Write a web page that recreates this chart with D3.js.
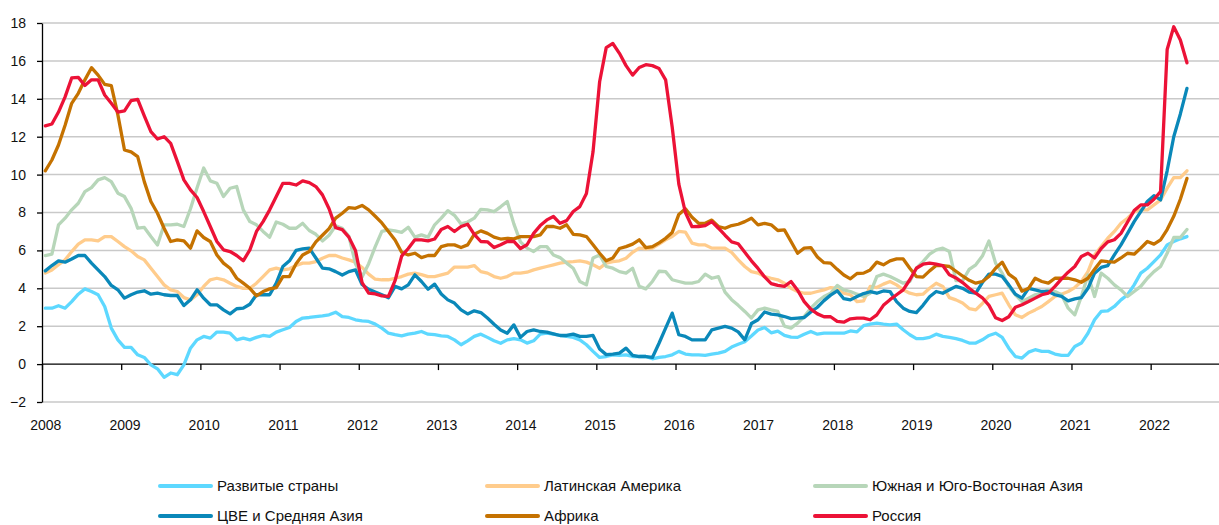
<!DOCTYPE html>
<html>
<head>
<meta charset="utf-8">
<script src="https://cdn.jsdelivr.net/npm/d3@7"></script>
<style>
  html, body { margin: 0; padding: 0; background: #fff; }
  svg { display: block; font-family: "Liberation Sans", Arial, sans-serif; }
</style>
</head>
<body>
<svg id="chart" width="1219" height="525"></svg>
<script>
// Monthly inflation, % y/y, January 2008 – June 2022
const firstYear = 2008;
const monthCount = 174;

const yearTicks = d3.range(2008, 2023);
const valueTicks = d3.range(-2, 19, 2);

const seriesNames = [
  "Развитые страны",
  "Латинская Америка",
  "Южная и Юго-Восточная Азия",
  "ЦВЕ и Средняя Азия",
  "Африка",
  "Россия"
];

const developed = [
  2.95, 2.95, 3.08, 2.95, 3.3, 3.69, 3.97, 3.83, 3.66, 3.04, 1.9, 1.28,
  0.88, 0.88, 0.49, 0.35, -0.04, -0.25, -0.7, -0.47, -0.56, -0.04, 0.84, 1.28,
  1.46, 1.37, 1.69, 1.69, 1.63, 1.28, 1.37, 1.28, 1.41, 1.51, 1.46, 1.69,
  1.81, 1.93, 2.25, 2.43, 2.46, 2.51, 2.55, 2.6, 2.74, 2.51, 2.46, 2.34,
  2.28, 2.25, 2.11, 1.9, 1.63, 1.55, 1.49, 1.58, 1.63, 1.72, 1.58, 1.55,
  1.49, 1.46, 1.28, 1.02, 1.23, 1.46, 1.58, 1.41, 1.23, 1.1, 1.28, 1.34,
  1.28, 1.11, 1.23, 1.58, 1.63, 1.58, 1.51, 1.46, 1.41, 1.28, 1.02, 0.67,
  0.35, 0.4, 0.49, 0.46, 0.49, 0.4, 0.4, 0.4, 0.28, 0.35, 0.4, 0.49,
  0.67, 0.53, 0.49, 0.49, 0.46, 0.53, 0.58, 0.67, 0.9, 1.05, 1.18, 1.48,
  1.8, 1.93, 1.65, 1.74, 1.52, 1.42, 1.41, 1.58, 1.72, 1.58, 1.63, 1.63,
  1.63, 1.63, 1.75, 1.7, 2.03, 2.11, 2.16, 2.11, 2.07, 2.11, 1.81, 1.55,
  1.34, 1.34, 1.41, 1.58, 1.46, 1.41, 1.34, 1.25, 1.11, 1.11, 1.28, 1.51,
  1.63, 1.41, 0.84, 0.4, 0.32, 0.63, 0.76, 0.67, 0.67, 0.53, 0.46, 0.46,
  0.93, 1.11, 1.63, 2.34, 2.78, 2.81, 3.04, 3.39, 3.66, 4.18, 4.8, 5.06,
  5.41, 5.76, 6.29, 6.47, 6.61, 6.73
];

const latinAmerica = [
  4.8, 4.97, 5.24, 5.5, 5.94, 6.33, 6.56, 6.56, 6.5, 6.73, 6.73, 6.47,
  6.2, 5.98, 5.68, 5.5, 5.06, 4.62, 4.18, 3.92, 3.83, 3.51, 3.39, 3.66,
  4.1, 4.45, 4.53, 4.45, 4.27, 4.1, 4.0, 4.0, 4.27, 4.62, 4.97, 5.06,
  4.97, 5.03, 5.2, 5.33, 5.33, 5.41, 5.59, 5.73, 5.73, 5.6, 5.5, 5.38,
  5.1, 4.75, 4.48, 4.45, 4.45, 4.53, 4.62, 4.75, 4.8, 4.72, 4.62, 4.62,
  4.71, 4.8, 5.12, 5.12, 5.12, 5.2, 4.88, 4.8, 4.62, 4.53, 4.62, 4.8,
  4.8, 4.85, 4.97, 5.06, 5.15, 5.24, 5.33, 5.38, 5.41, 5.45, 5.38, 5.24,
  5.06, 5.33, 5.41, 5.45, 5.59, 5.9, 6.12, 6.08, 6.12, 6.33, 6.56, 6.73,
  7.0, 6.96, 6.38, 6.29, 6.29, 6.12, 6.12, 6.12, 5.9, 5.5, 5.15, 4.88,
  4.8, 4.62, 4.53, 4.45, 4.27, 4.0, 3.83, 3.74, 3.74, 3.83, 3.92, 4.04,
  4.0, 3.74, 3.66, 3.3, 3.34, 4.1, 4.04, 4.22, 4.36, 4.18, 3.92, 3.74,
  3.66, 3.69, 4.0, 4.27, 4.1, 3.51, 3.39, 3.22, 2.93, 2.86, 3.2, 3.57,
  3.66, 3.74, 3.13, 2.6, 2.46, 2.69, 2.86, 3.04, 3.3, 3.57, 3.69, 3.83,
  4.04, 4.36, 4.88, 5.76, 6.2, 6.64, 7.0, 7.43, 7.7, 8.05, 8.14, 8.14,
  8.4, 8.66, 9.28, 9.84, 9.84, 10.2
];

const southAsia = [
  5.73, 5.8, 7.35, 7.7, 8.14, 8.49, 9.1, 9.31, 9.72, 9.84, 9.63, 9.02,
  8.84, 8.22, 7.17, 7.21, 6.73, 6.29, 7.35, 7.35, 7.38, 7.26, 8.2, 9.3,
  10.35, 9.67, 9.54, 8.84, 9.28, 9.37, 8.14, 7.52, 7.35, 7.0, 6.7, 7.5,
  7.38, 7.17, 7.17, 7.43, 7.05, 6.85, 6.5, 6.8, 7.3, 7.17, 6.75, 5.3,
  4.6, 5.3, 6.2, 7.0, 7.08, 7.03, 6.95, 7.22, 6.7, 6.82, 6.7, 7.35,
  7.7, 8.1, 7.85, 7.4, 7.5, 7.7, 8.17, 8.14, 8.05, 8.3, 8.58, 7.4,
  6.45, 6.12, 5.94, 6.2, 6.2, 5.76, 5.62, 5.33, 5.06, 4.36, 4.18, 5.6,
  5.76, 5.15, 5.06, 4.88, 4.8, 5.06, 4.1, 3.97, 4.36, 4.9, 4.88, 4.45,
  4.36, 4.27, 4.27, 4.36, 4.75, 4.53, 4.62, 3.8, 3.4, 3.1, 2.78, 2.43,
  2.86, 2.95, 2.86, 2.78, 2.0, 1.9, 2.16, 2.51, 2.95, 3.3, 3.57, 3.74,
  4.15, 3.92, 3.83, 3.69, 3.57, 3.74, 4.62, 4.75, 4.62, 4.45, 4.27, 4.36,
  5.06, 5.41, 5.8, 6.03, 6.12, 5.94, 4.4, 4.4, 5.0, 5.24, 5.7, 6.5,
  5.33, 4.8, 4.1, 3.66, 3.3, 3.48, 3.66, 3.74, 3.92, 3.83, 3.66, 2.95,
  2.6, 3.57, 4.7, 3.57, 4.8, 4.53, 4.18, 3.92, 3.57, 3.83, 4.1, 4.53,
  4.88, 5.15, 5.85, 6.68, 6.68, 7.1
];

const ceeCentralAsia = [
  4.92, 5.2, 5.45, 5.38, 5.55, 5.73, 5.73, 5.33, 4.97, 4.62, 4.15, 3.92,
  3.48, 3.66, 3.8, 3.87, 3.69, 3.74, 3.66, 3.62, 3.62, 3.09, 3.39, 3.92,
  3.48, 3.13, 3.13, 2.86, 2.65, 2.92, 2.95, 3.16, 3.66, 3.66, 3.66, 4.27,
  5.15, 5.45, 6.0, 6.08, 6.12, 5.6, 5.06, 5.03, 4.88, 4.7, 4.88, 4.97,
  4.2, 3.95, 3.8, 3.66, 3.5, 4.1, 3.97, 4.18, 4.71, 4.36, 3.95, 4.22,
  3.7, 3.39, 3.22, 2.86, 2.65, 2.81, 2.72, 2.43, 2.1, 1.8, 1.63, 2.07,
  1.41, 1.72, 1.81, 1.72, 1.69, 1.6, 1.51, 1.51, 1.58, 1.46, 1.46, 1.51,
  0.8, 0.5, 0.53, 0.58, 0.84, 0.46, 0.4, 0.4, 0.35, 1.1, 1.9, 2.69,
  1.55, 1.46, 1.28, 1.28, 1.28, 1.81, 1.9, 1.99, 1.9, 1.7, 1.28, 2.14,
  2.34, 2.75, 2.64, 2.6, 2.51, 2.4, 2.43, 2.46, 2.75, 3.0, 3.35, 3.64,
  3.87, 3.45, 3.39, 3.57, 3.72, 3.82, 3.74, 3.86, 3.83, 3.3, 2.95, 2.78,
  2.72, 3.1, 3.55, 3.83, 3.74, 3.92, 4.1, 4.0, 3.8, 3.74, 4.3, 4.75,
  4.75, 4.62, 4.18, 3.69, 3.48, 4.0, 3.92, 3.83, 3.83, 3.66, 3.57, 3.34,
  3.44, 3.51, 4.0, 4.8, 5.1, 5.2, 5.76, 6.29, 6.9, 7.52, 8.05, 8.58,
  8.89, 8.66, 10.2, 12.0, 13.2, 14.55
];

const africa = [
  10.2, 10.77, 11.56, 12.6, 13.76, 14.29, 15.0, 15.64, 15.25, 14.76, 14.69, 13.15,
  11.3, 11.2, 10.95, 9.63, 8.58, 7.96, 7.17, 6.47, 6.56, 6.5, 6.12, 7.03,
  6.68, 6.47, 5.76, 5.33, 5.06, 4.53, 4.27, 4.0, 3.6, 3.83, 3.97, 4.04,
  4.62, 4.62, 5.3, 5.76, 5.94, 6.45, 6.8, 7.15, 7.7, 7.96, 8.26, 8.22,
  8.37, 8.14, 7.8, 7.45, 7.0, 6.55, 5.9, 5.76, 5.85, 5.62, 5.73, 5.73,
  6.2, 6.29, 6.29, 6.15, 6.29, 6.85, 7.03, 6.9, 6.7, 6.6, 6.64, 6.61,
  6.73, 6.73, 6.73, 6.82, 7.26, 7.26, 7.17, 7.35, 6.85, 6.82, 6.73, 6.3,
  5.85, 5.45, 5.6, 6.1, 6.2, 6.33, 6.56, 6.15, 6.2, 6.4, 6.64, 6.95,
  7.9, 8.2, 7.75, 7.43, 7.43, 7.6, 7.26, 7.17, 7.31, 7.38, 7.52, 7.7,
  7.35, 7.43, 7.35, 7.05, 7.08, 6.47, 5.85, 6.12, 6.15, 5.65, 5.35, 5.33,
  5.0, 4.7, 4.5, 4.78, 4.8, 4.97, 5.38, 5.24, 5.45, 5.55, 5.55, 5.06,
  4.62, 4.59, 4.92, 5.2, 5.2, 5.15, 4.9, 4.65, 4.42, 4.27, 4.36, 4.62,
  5.06, 5.38, 4.75, 4.5, 3.85, 4.0, 4.53, 4.36, 4.27, 4.53, 4.53, 4.53,
  4.45, 4.32, 4.53, 5.0, 5.45, 5.41, 5.38, 5.6, 5.85, 5.8, 6.12, 6.47,
  6.33, 6.56, 7.1, 7.8, 8.7, 9.8
];

const russia = [
  12.57, 12.67, 13.3, 14.1, 15.1, 15.13, 14.7, 15.0, 15.0, 14.2, 13.76, 13.3,
  13.36, 13.9, 13.97, 13.1, 12.27, 11.88, 12.0, 11.65, 10.7, 9.72, 9.19, 8.79,
  8.05, 7.26, 6.47, 6.03, 5.94, 5.73, 5.45, 6.03, 7.0, 7.52, 8.14, 8.84,
  9.54, 9.54, 9.45, 9.67, 9.58, 9.37, 8.93, 8.2, 7.2, 7.1, 6.7, 6.0,
  4.3, 3.75, 3.7, 3.6, 3.57, 4.4, 5.7, 6.1, 6.56, 6.56, 6.5, 6.6,
  7.1, 7.26, 7.0, 7.26, 7.38, 6.85, 6.47, 6.45, 6.15, 6.3, 6.47, 6.47,
  6.1, 6.3, 6.9, 7.31, 7.61, 7.79, 7.43, 7.57, 8.05, 8.31, 9.0, 11.2,
  14.9, 16.7, 16.92, 16.4, 15.75, 15.25, 15.65, 15.8, 15.75, 15.6, 15.0, 12.5,
  9.5, 8.0, 7.25, 7.26, 7.31, 7.52, 7.17, 6.8, 6.45, 6.35, 5.9, 5.45,
  5.05, 4.6, 4.25, 4.15, 4.1, 4.36, 3.9, 3.3, 2.9, 2.65, 2.5, 2.5,
  2.25, 2.21, 2.39, 2.43, 2.43, 2.34, 2.6, 3.1, 3.4, 3.66, 3.92, 4.45,
  5.06, 5.27, 5.33, 5.27, 5.2, 4.71, 4.55, 4.3, 4.0, 3.74, 3.5, 3.1,
  2.45, 2.3, 2.5, 3.0, 3.13, 3.3, 3.48, 3.66, 3.74, 4.1, 4.5, 4.85,
  5.15, 5.68, 5.85, 5.6, 6.1, 6.45, 6.56, 6.9, 7.5, 8.1, 8.4, 8.4,
  8.7, 9.1, 16.6, 17.8, 17.1, 15.9
];

const seriesValues = [developed, latinAmerica, southAsia, ceeCentralAsia, africa, russia];
const seriesColors = ["#5dd8ff", "#ffcc8c", "#b7d6b9", "#0a88b9", "#c57200", "#ec1237"];

// Each observation sits in the middle of its month on a fractional-year axis
const monthPositions = d3.range(monthCount).map(m => firstYear + (m + 0.5) / 12);

const svg = d3.select("#chart");
const plotLeft = 42, plotRight = 1219, plotTop = 23, plotBottom = 402;

const x = d3.scaleLinear().domain([2008, 2023]).range([plotLeft, plotLeft + 15 * 79.19]);
const y = d3.scaleLinear().domain([-2, 18]).range([plotBottom, plotTop]);

// Horizontal gridlines
svg.append("g")
  .selectAll("line")
  .data(valueTicks.filter(v => v !== 0))
  .join("line")
  .attr("x1", plotLeft).attr("x2", plotRight)
  .attr("y1", d => y(d)).attr("y2", d => y(d))
  .attr("stroke", "#c9c9c9")
  .attr("stroke-width", 1.5);

// Value axis
const yAxis = svg.append("g")
  .attr("transform", `translate(${plotLeft},0)`)
  .call(d3.axisLeft(y).tickValues(valueTicks).tickSize(5).tickSizeOuter(0).tickPadding(11).tickFormat(d3.format("d")));
yAxis.select(".domain").attr("stroke", "#000").attr("stroke-width", 1.3);
yAxis.selectAll(".tick line").attr("stroke", "#000").attr("stroke-width", 1.3);
yAxis.selectAll("text").attr("font-size", 14).attr("fill", "#111").attr("font-family", "Liberation Sans, Arial, sans-serif");

// Time axis on the zero line, labels below the plot
const halfMonth = x(2008 + 0.5 / 12) - x(2008);
const xAxis = svg.append("g")
  .attr("transform", `translate(0,${y(0)})`)
  .call(d3.axisBottom(x).tickValues(yearTicks).tickSize(6).tickSizeOuter(0).tickPadding(50).tickFormat(d3.format("d")));
xAxis.select(".domain").attr("d", `M${plotLeft},0H${plotRight}`).attr("stroke", "#000").attr("stroke-width", 1.3);
xAxis.selectAll(".tick line").attr("stroke", "#000").attr("stroke-width", 1.3);
xAxis.selectAll("text").attr("font-size", 14).attr("fill", "#111").attr("dx", halfMonth)
  .attr("font-family", "Liberation Sans, Arial, sans-serif");

// Series lines, drawn in legend order so Russia ends up on top
const line = d3.line()
  .x((d, i) => x(monthPositions[i]))
  .y(d => y(d))
  .curve(d3.curveLinear);

svg.append("g")
  .selectAll("path")
  .data(seriesValues)
  .join("path")
  .attr("fill", "none")
  .attr("stroke", (d, i) => seriesColors[i])
  .attr("stroke-width", 3.3)
  .attr("stroke-linejoin", "round")
  .attr("stroke-linecap", "round")
  .attr("d", d => line(d));

// Legend: three columns, two rows
const legendCols = [160, 487, 815];
const legendRows = [486, 516];
const legend = svg.append("g")
  .selectAll("g")
  .data(seriesNames)
  .join("g")
  .attr("transform", (d, i) => `translate(${legendCols[i % 3]},${legendRows[Math.floor(i / 3)]})`);
legend.append("line")
  .attr("x1", 0).attr("x2", 51)
  .attr("stroke", (d, i) => seriesColors[i])
  .attr("stroke-width", 4)
  .attr("stroke-linecap", "round");
legend.append("text")
  .attr("x", 57)
  .attr("dy", "0.35em")
  .attr("font-size", 15)
  .attr("fill", "#111")
  .text(d => d);
</script>
</body>
</html>
